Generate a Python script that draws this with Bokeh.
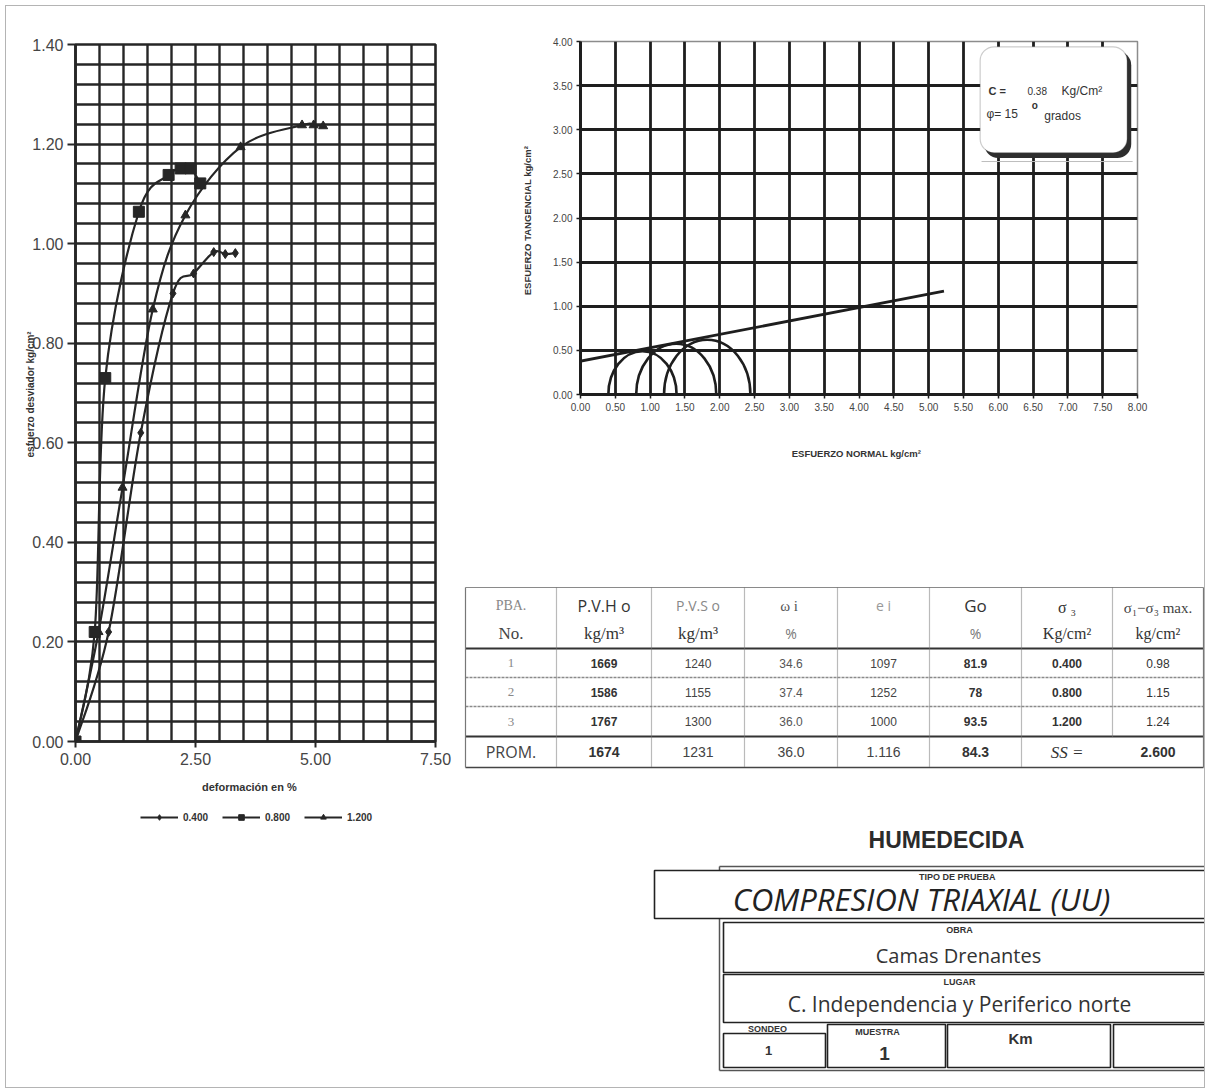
import numpy as np
from bokeh.plotting import figure
from bokeh.models import (Range1d, FixedTicker, Legend, LegendItem, BoxAnnotation,
                          Label, PrintfTickFormatter, Spacer)
from bokeh.layouts import row, column
from bokeh.core.properties import value
from bokeh.embed import file_html
from bokeh.resources import INLINE

# ---------------- data ----------------
series_labels = ["0.400", "0.800", "1.200"]
strain_04 = [0.0, 0.69, 1.36, 2.03, 2.46, 2.88, 3.12, 3.33]
dev_04 = [0.0, 0.22, 0.62, 0.90, 0.94, 0.983, 0.979, 0.981]
strain_08 = [0.0, 0.40, 0.62, 1.32, 1.94, 2.19, 2.40, 2.60]
dev_08 = [0.0, 0.22, 0.73, 1.064, 1.138, 1.151, 1.151, 1.121]
strain_12 = [0.0, 0.48, 0.98, 1.61, 2.29, 3.44, 4.72, 4.96, 5.16]
dev_12 = [0.0, 0.22, 0.51, 0.868, 1.057, 1.194, 1.238, 1.238, 1.236]

left_xticks = [0.0, 2.5, 5.0, 7.5]
left_yticks = [0.0, 0.2, 0.4, 0.6, 0.8, 1.0, 1.2, 1.4]

sigma3 = [0.400, 0.800, 1.200]
dev_max = [0.98, 1.15, 1.24]
env_x = [-0.16, 5.22]
env_y = [0.354, 1.17]
cohesion = "0.38"
phi_deg = "15"
mohr_xticks = [0.0, 0.5, 1.0, 1.5, 2.0, 2.5, 3.0, 3.5, 4.0, 4.5, 5.0, 5.5, 6.0, 6.5, 7.0, 7.5, 8.0]
mohr_yticks = [0.0, 0.5, 1.0, 1.5, 2.0, 2.5, 3.0, 3.5, 4.0]

hdr1 = ["PBA.", "P.V.H o", "P.V.S o", "\u03c9  i", "e i", "Go", "\u03c3 \u2083", "\u03c3\u2081\u2212\u03c3\u2083 max."]
hdr2 = ["No.", "kg/m\u00b3", "kg/m\u00b3", "%", "", "%", "Kg/cm\u00b2", "kg/cm\u00b2"]
pba_no = ["1", "2", "3"]
pvh = ["1669", "1586", "1767"]
pvs = ["1240", "1155", "1300"]
wi = ["34.6", "37.4", "36.0"]
ei = ["1097", "1252", "1000"]
go = ["81.9", "78", "93.5"]
prom = ["PROM.", "1674", "1231", "36.0", "1.116", "84.3", "SS =", "2.600"]

INK = "#262626"
SANS = "Liberation Sans"

# ---------------- left chart: stress-strain ----------------
p1 = figure(frame_width=360, frame_height=697, min_border_left=69, min_border_right=28,
            min_border_top=38, min_border_bottom=59,
            x_range=Range1d(0, 7.5), y_range=Range1d(0, 1.4),
            output_backend="svg", toolbar_location=None,
            background_fill_color="white", border_fill_color="white")
p1.xgrid.ticker = FixedTicker(ticks=[float(v) for v in np.arange(0, 7.51, 0.5)])
p1.ygrid.ticker = FixedTicker(ticks=[round(float(v), 2) for v in np.arange(0, 1.401, 0.04)])
p1.grid.grid_line_color = INK
p1.grid.grid_line_width = 2.4
p1.outline_line_color = INK
p1.outline_line_width = 2.6

for ax in (p1.xaxis, p1.yaxis):
    ax.formatter = PrintfTickFormatter(format="%.2f")
    ax.axis_line_color = INK
    ax.axis_line_width = 2.6
    ax.major_tick_line_color = INK
    ax.major_tick_line_width = 2
    ax.major_tick_in = 0
    ax.minor_tick_line_color = None
    ax.major_label_text_font = SANS
    ax.major_label_text_font_size = "16px"
    ax.major_label_text_color = "#454545"
    ax.axis_label_text_font = SANS
    ax.axis_label_text_font_style = "bold"
    ax.axis_label_text_color = "#333333"
p1.xaxis.ticker = FixedTicker(ticks=left_xticks)
p1.yaxis.ticker = FixedTicker(ticks=left_yticks)
p1.xaxis.major_tick_out = 6
p1.yaxis.major_tick_out = 8
p1.yaxis.major_label_standoff = 4
p1.xaxis.axis_label = "deformaci\u00f3n   en   %"
p1.xaxis.axis_label_text_font_size = "11px"
p1.xaxis.axis_label_standoff = 13
p1.yaxis.axis_label = "esfuerzo desviador  kg/cm\u00b2"
p1.yaxis.axis_label_text_font_size = "10px"
p1.yaxis.axis_label_standoff = -7


def smooth(xs, ys):
    n = len(xs)
    d = dict(x0=[], y0=[], x1=[], y1=[], cx0=[], cy0=[], cx1=[], cy1=[])
    for i in range(n - 1):
        a = max(i - 1, 0)
        b = min(i + 2, n - 1)
        d["x0"].append(xs[i]); d["y0"].append(ys[i])
        d["x1"].append(xs[i + 1]); d["y1"].append(ys[i + 1])
        d["cx0"].append(xs[i] + (xs[i + 1] - xs[a]) / 6.0)
        d["cy0"].append(ys[i] + (ys[i + 1] - ys[a]) / 6.0)
        d["cx1"].append(xs[i + 1] - (xs[b] - xs[i]) / 6.0)
        d["cy1"].append(ys[i + 1] - (ys[b] - ys[i]) / 6.0)
    return d


series = {
    "diamond": (strain_04, dev_04, 9),
    "triangle": (strain_12, dev_12, 9),
    "square": (strain_08, dev_08, 11),
}
for mk in ["diamond", "triangle", "square"]:
    xs, ys, sz = series[mk]
    p1.bezier(source=smooth(xs, ys), x0="x0", y0="y0", x1="x1", y1="y1",
              cx0="cx0", cy0="cy0", cx1="cx1", cy1="cy1", line_color=INK, line_width=2.2)
    p1.scatter(xs, ys, marker=mk, size=sz, fill_color=INK, line_color=INK)

# ---------------- legend strip under the left chart ----------------
# the strip's ranges lie away from the data, so only its legend is visible
pl = figure(frame_width=457, frame_height=34, min_border=0,
            x_range=Range1d(-3, -2), y_range=Range1d(-3, -2),
            x_axis_type=None, y_axis_type=None,
            output_backend="svg", toolbar_location=None,
            background_fill_color="white", border_fill_color="white")
pl.grid.visible = False
pl.outline_line_color = None
items = []
for lab, mk in zip(series_labels, ["diamond", "square", "triangle"]):
    xs, ys, sz = series[mk]
    lr = pl.line(xs, ys, line_color=INK, line_width=2.2)
    sr = pl.scatter(xs, ys, marker=mk, size=sz, fill_color=INK, line_color=INK)
    items.append(LegendItem(label=lab, renderers=[lr, sr]))
legend = Legend(items=items, orientation="horizontal", location=(130, 6),
                glyph_width=38, glyph_height=14, label_height=14, label_standoff=5,
                spacing=14, margin=0, padding=4, border_line_alpha=0,
                background_fill_alpha=0, label_text_font=SANS,
                label_text_font_size="10px", label_text_font_style="bold",
                label_text_color="#333333")
pl.add_layout(legend)

# ---------------- right chart: Mohr circles ----------------
p2 = figure(frame_width=557, frame_height=353, min_border_left=117, min_border_right=67,
            min_border_top=35, min_border_bottom=76,
            x_range=Range1d(0, 8), y_range=Range1d(0, 4),
            output_backend="svg", toolbar_location=None,
            background_fill_color="white", border_fill_color="white")
p2.xgrid.ticker = FixedTicker(ticks=mohr_xticks[1:-1])
p2.ygrid.ticker = FixedTicker(ticks=mohr_yticks[1:-1])
p2.grid.grid_line_color = "#1e1e1e"
p2.grid.grid_line_width = 2.8
p2.outline_line_color = "#8c8c8c"
p2.outline_line_width = 1.5
for ax in (p2.xaxis, p2.yaxis):
    ax.formatter = PrintfTickFormatter(format="%.2f")
    ax.axis_line_color = "#1e1e1e"
    ax.axis_line_width = 3
    ax.major_tick_line_color = "#1e1e1e"
    ax.major_tick_line_width = 1.5
    ax.major_tick_in = 0
    ax.major_tick_out = 4
    ax.major_label_standoff = 4
    ax.minor_tick_line_color = None
    ax.major_label_text_font = SANS
    ax.major_label_text_font_size = "10px"
    ax.major_label_text_color = "#444444"
    ax.axis_label_text_font = SANS
    ax.axis_label_text_font_style = "bold"
    ax.axis_label_text_font_size = "9.5px"
    ax.axis_label_text_color = "#333333"
p2.xaxis.ticker = FixedTicker(ticks=mohr_xticks)
p2.yaxis.ticker = FixedTicker(ticks=mohr_yticks)
p2.xaxis.axis_label = "ESFUERZO  NORMAL  kg/cm\u00b2"
p2.xaxis.axis_label_standoff = 34
p2.yaxis.axis_label = "ESFUERZO  TANGENCIAL  kg/cm\u00b2"
p2.yaxis.axis_label_standoff = 17

centers = [s + d / 2.0 for s, d in zip(sigma3, dev_max)]
diam = list(dev_max)
p2.ellipse(x=centers, y=[0.0] * 3, width=diam, height=diam, fill_alpha=0,
           line_color="#1e1e1e", line_width=2.6)
p2.line(env_x, env_y, line_color="#1e1e1e", line_width=2.8)

p2.add_layout(BoxAnnotation(left=5.80, right=7.91, top=3.89, bottom=2.68,
                            fill_color="#2e2e2e", fill_alpha=1, line_color=None,
                            border_radius=14))
p2.add_layout(BoxAnnotation(left=5.74, right=7.85, top=3.94, bottom=2.74,
                            fill_color="white", fill_alpha=1, line_color="#555555",
                            line_width=1.2, border_radius=14))
p2.segment(x0=[5.76], x1=[7.93], y0=[2.64], y1=[2.64], line_color="#bdbdbd", line_width=1)
for x, y, t, sz, st in [
    (5.86, 3.44, "C =", "11px", "bold"),
    (6.42, 3.44, cohesion, "10px", "normal"),
    (6.91, 3.44, "Kg/Cm\u00b2", "12px", "normal"),
    (5.83, 3.18, "\u03c6= " + phi_deg, "12px", "normal"),
    (6.48, 3.27, "o", "10px", "bold"),
    (6.66, 3.16, "grados", "12px", "normal"),
]:
    p2.add_layout(Label(x=x, y=y, text=t, text_font=SANS, text_font_size=sz,
                        text_font_style=st, text_color="#333333",
                        text_baseline="middle", text_align="left"))

# ---------------- bottom right: table + title block ----------------
p3 = figure(frame_width=741, frame_height=617, min_border=0,
            x_range=Range1d(463, 1204), y_range=Range1d(1087, 470),
            x_axis_type=None, y_axis_type=None,
            output_backend="svg", toolbar_location=None,
            background_fill_color="white", border_fill_color="white")
p3.grid.visible = False
p3.outline_line_color = None

tbl_cols = [465, 556, 651, 744, 837, 929, 1021, 1112, 1203]
tbl_rows = [587, 648, 677, 706, 736, 767]
ccol = [(a + b) / 2.0 for a, b in zip(tbl_cols[:-1], tbl_cols[1:])]
crow = [(a + b) / 2.0 for a, b in zip(tbl_rows[1:-1], tbl_rows[2:])]


def txt(xs, ys, ts, size, font=SANS, style="normal", color="#333333", align="center"):
    p3.text(x=xs, y=ys, text=ts, text_font=value(font), text_font_size=value(size),
            text_font_style=value(style), text_color=color, text_align=align,
            text_baseline="middle")


# horizontal table lines
p3.segment(x0=[tbl_cols[0]], x1=[tbl_cols[-1]], y0=[tbl_rows[0]], y1=[tbl_rows[0]],
           line_color="#8a8a8a", line_width=1.2)
p3.segment(x0=[tbl_cols[0]] * 2, x1=[tbl_cols[-1]] * 2, y0=[tbl_rows[1], tbl_rows[4]],
           y1=[tbl_rows[1], tbl_rows[4]], line_color="#333333", line_width=2.2)
p3.segment(x0=[tbl_cols[0]] * 2, x1=[tbl_cols[-1]] * 2, y0=[tbl_rows[2], tbl_rows[3]],
           y1=[tbl_rows[2], tbl_rows[3]], line_color="#8a8a8a", line_width=1.6,
           line_dash="3 1")
p3.segment(x0=[tbl_cols[0]], x1=[tbl_cols[-1]], y0=[tbl_rows[5]], y1=[tbl_rows[5]],
           line_color="#444444", line_width=1.6)
# vertical table lines
p3.segment(x0=[tbl_cols[0], tbl_cols[-1]], x1=[tbl_cols[0], tbl_cols[-1]],
           y0=[tbl_rows[0]] * 2, y1=[tbl_rows[-1]] * 2, line_color="#777777", line_width=1.2)
inner = tbl_cols[1:-1]
bottoms = [tbl_rows[-1] if c != tbl_cols[7] else tbl_rows[4] for c in inner]
p3.segment(x0=inner, x1=inner, y0=[tbl_rows[0]] * len(inner), y1=bottoms,
           line_color="#777777", line_width=1.2, line_dash="1 1")

# header text
hy1, hy2 = 605, 633
txt([ccol[0]], [hy1], [hdr1[0]], "14px", "Liberation Serif", color="#888888")
txt([ccol[1]], [hy1], [hdr1[1]], "16px", "Open Sans", color="#333333")
txt([ccol[2]], [hy1], [hdr1[2]], "14px", "Open Sans", color="#888888")
txt([ccol[3]], [hy1], [hdr1[3]], "15px", "Liberation Serif", color="#555555")
txt([ccol[4]], [hy1], [hdr1[4]], "14px", "Open Sans", color="#999999")
txt([ccol[5]], [hy1], [hdr1[5]], "17px", "Open Sans", color="#333333")
txt([ccol[6]], [hy1 + 2], [hdr1[6]], "16px", "Liberation Serif", color="#333333")
txt([ccol[7]], [hy1 + 2], [hdr1[7]], "15px", "Liberation Serif", color="#444444")
txt([ccol[0]], [hy2], [hdr2[0]], "17px", "Liberation Serif", color="#444444")
txt(ccol[1:3], [hy2] * 2, hdr2[1:3], "17px", "Liberation Serif", color="#333333")
txt([ccol[3], ccol[5]], [hy2] * 2, [hdr2[3], hdr2[5]], "14px", "Open Sans", color="#777777")
txt(ccol[6:8], [hy2] * 2, hdr2[6:8], "16px", "Liberation Serif", color="#333333")

# body rows
txt([ccol[0]] * 3, crow[:3], pba_no, "13px", "Liberation Serif", color="#888888")
txt([ccol[1]] * 3, crow[:3], pvh, "12px", style="bold", color="#333333")
txt([ccol[2]] * 3, crow[:3], pvs, "12px", color="#444444")
txt([ccol[3]] * 3, crow[:3], wi, "12px", color="#555555")
txt([ccol[4]] * 3, crow[:3], ei, "12px", color="#444444")
txt([ccol[5]] * 3, crow[:3], go, "12px", style="bold", color="#333333")
txt([ccol[6]] * 3, crow[:3], ["%.3f" % s for s in sigma3], "12px", style="bold", color="#333333")
txt([ccol[7]] * 3, crow[:3], ["%.2f" % d for d in dev_max], "12px", color="#333333")
py = crow[3]
txt([ccol[0]], [py], [prom[0]], "16px", "Open Sans", color="#444444")
txt([ccol[1]], [py], [prom[1]], "14px", style="bold", color="#333333")
txt(ccol[2:5], [py] * 3, prom[2:5], "14px", color="#444444")
txt([ccol[5]], [py], [prom[5]], "14px", style="bold", color="#333333")
txt([ccol[6]], [py], [prom[6]], "17px", "Liberation Serif", style="italic", color="#333333")
txt([ccol[7]], [py], [prom[7]], "14px", style="bold", color="#333333")

# title block
txt([946], [839], ["HUMEDECIDA"], "23px", style="bold", color="#2b2b2b")
p3.segment(x0=[719, 719, 719], x1=[719, 1212, 1212], y0=[866, 866, 1070], y1=[1070, 866, 1070],
           line_color="#555555", line_width=1.5)
boxes_l = [654, 723, 723, 723, 827, 947, 1113]
boxes_r = [1212, 1212, 1212, 825, 945, 1110, 1212]
boxes_t = [870, 922, 974, 1033, 1024, 1024, 1024]
boxes_b = [918, 972, 1022, 1067, 1067, 1067, 1067]
p3.quad(left=boxes_l, right=boxes_r, top=boxes_t, bottom=boxes_b,
        fill_color="white", line_color="#222222", line_width=1.6)
txt([958], [876], ["TIPO DE  PRUEBA"], "9px", style="bold", color="#333333")
txt([925], [898], ["COMPRESION  TRIAXIAL (UU)"], "31px", "Open Sans", style="italic", color="#222222")
txt([959], [929], ["OBRA"], "9px", style="bold", color="#333333")
txt([958], [955], ["Camas Drenantes"], "20px", "Open Sans", color="#333333")
txt([959], [981], ["LUGAR"], "9px", style="bold", color="#333333")
txt([959], [1003], ["C. Independencia y Periferico norte"], "21px", "Open Sans", color="#333333")
txt([767], [1028], ["SONDEO"], "9px", style="bold", color="#333333")
txt([877], [1031], ["MUESTRA"], "9px", style="bold", color="#333333")
txt([1020], [1038], ["Km"], "15px", style="bold", color="#333333")
txt([768], [1050], ["1"], "13px", style="bold", color="#333333")
txt([884], [1053], ["1"], "19px", style="bold", color="#333333")

left_col = column(column(p1), column(pl), Spacer(width=457, height=253))
right_col = column(column(p2), column(p3))
layout = row(left_col, right_col)
layout.margin = (5, 0, 0, 5)
layout.styles = {"border": "1px solid #b4b4b4"}

open("out.html", "w").write(file_html(layout, INLINE))
